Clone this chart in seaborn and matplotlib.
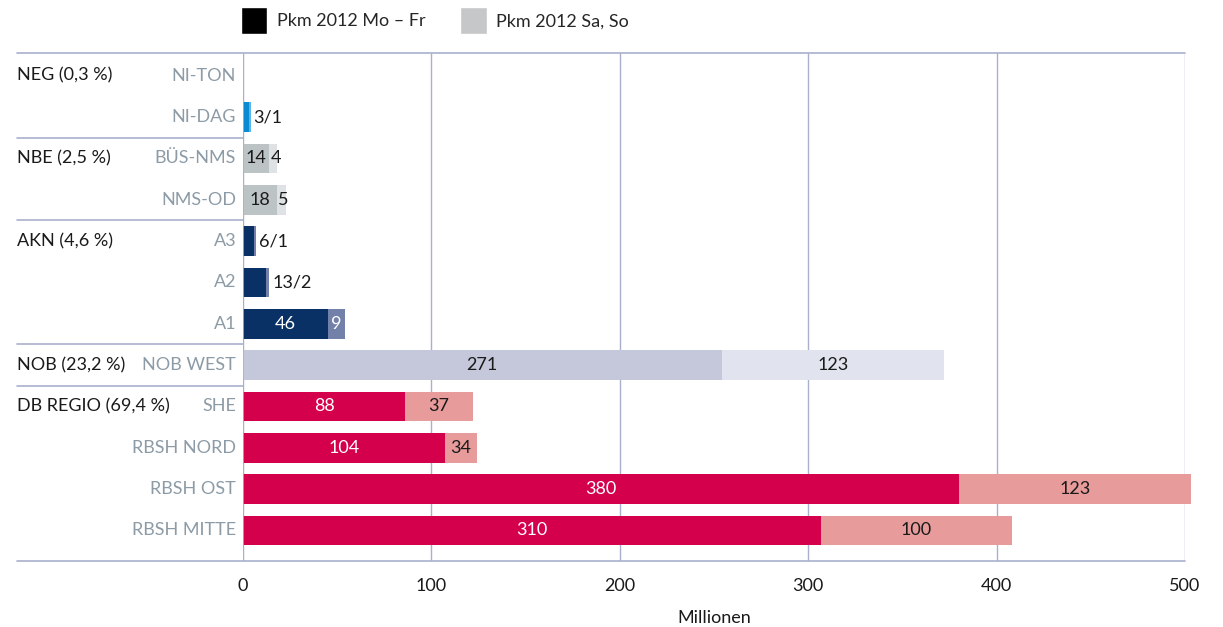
import matplotlib
matplotlib.use("Agg")
from matplotlib import pyplot
from matplotlib.patches import Patch
from matplotlib.transforms import blended_transform_factory
import seaborn
import pandas as pd

# Daten
strecken = ["NI-TON", "NI-DAG", "BÜS-NMS", "NMS-OD", "A3", "A2", "A1",
            "NOB WEST", "SHE", "RBSH NORD", "RBSH OST", "RBSH MITTE"]
gruppen = ["NEG (0,3 %)", "", "NBE (2,5 %)", "", "AKN (4,6 %)", "", "",
           "NOB (23,2 %)", "DB REGIO (69,4 %)", "", "", ""]
# Balkenlaengen wie im Bild (Mio. Pkm)
mo_fr = [0, 3, 14, 18, 6, 12, 45, 254, 86, 107, 380, 307]
sa_so = [0, 1, 4, 5, 1, 2, 9, 118, 36, 17, 123, 101]
# Beschriftungen
text_mo_fr = ["", "", "14", "18", "", "", "46", "271", "88", "104", "380", "310"]
text_sa_so = ["", "", "4", "5", "", "", "9", "123", "37", "34", "123", "100"]
text_aussen = ["", "3/1", "", "", "6/1", "13/2", "", "", "", "", "", ""]

farbe_dunkel = ["#0a8ad0", "#0a8ad0", "#bcc3c5", "#bcc3c5", "#0a3166", "#0a3166",
                "#0a3166", "#c4c8da", "#d4004b", "#d4004b", "#d4004b", "#d4004b"]
farbe_hell = ["#5ab4e6", "#5ab4e6", "#dfe2e4", "#dfe2e4", "#7280aa", "#7280aa",
              "#7280aa", "#e1e3ee", "#e89b9b", "#e89b9b", "#e89b9b", "#e89b9b"]
text_farbe_mo = ["k", "k", "#1a1a1a", "#1a1a1a", "w", "w", "w", "#1a1a1a",
                 "w", "w", "w", "w"]
text_farbe_sa = ["k", "k", "#1a1a1a", "#1a1a1a", "w", "w", "w", "#1a1a1a",
                 "#1a1a1a", "#1a1a1a", "#1a1a1a", "#1a1a1a"]
trenner = [1.5, 3.5, 6.5, 7.5]

df = pd.DataFrame({"strecke": strecken, "mo_fr": mo_fr, "sa_so": sa_so})
df["summe"] = df["mo_fr"] + df["sa_so"]

seaborn.set_style("white")
pyplot.rcParams["font.family"] = ["Lato", "DejaVu Sans"]
linien = "#a9b0cc"
gross = 13

fig = pyplot.figure(figsize=(12.23, 6.27), dpi=100)
ax = fig.add_axes([0.1987, 0.1053, 0.7702, 0.8102])

seaborn.barplot(data=df, y="strecke", x="summe", hue="strecke", palette=farbe_hell,
                legend=False, orient="h", width=0.72, ax=ax, saturation=1,
                linewidth=0)
seaborn.barplot(data=df, y="strecke", x="mo_fr", hue="strecke", palette=farbe_dunkel,
                legend=False, orient="h", width=0.72, ax=ax, saturation=1,
                linewidth=0)
for balken in ax.patches:
    balken.set_clip_on(False)

ax.set_xlim(0, 500)
ax.set_ylim(11.74, -0.55)
ax.set_xticks(range(0, 501, 100))
ax.tick_params(axis="x", length=0, labelsize=gross, pad=12, colors="#1a1a1a")
ax.set_yticks([])
ax.set_ylabel("")
ax.set_xlabel("Millionen", fontsize=gross, labelpad=12, color="#1a1a1a")
for s in ax.spines.values():
    s.set_visible(False)
ax.grid(axis="x", color=linien, linewidth=1)
ax.set_axisbelow(True)
ax.axvline(0, color=linien, linewidth=1.2, zorder=5)

links = blended_transform_factory(fig.transFigure, ax.transData)
for i in range(len(strecken)):
    if text_mo_fr[i]:
        ax.text(mo_fr[i] / 2, i, text_mo_fr[i], ha="center", va="center",
                fontsize=gross, color=text_farbe_mo[i])
    if text_sa_so[i]:
        if sa_so[i] < 8:
            ax.text(mo_fr[i] + 0.8, i, text_sa_so[i], ha="left", va="center",
                    fontsize=gross, color=text_farbe_sa[i])
        else:
            ax.text(mo_fr[i] + sa_so[i] / 2, i, text_sa_so[i], ha="center",
                    va="center", fontsize=gross, color=text_farbe_sa[i])
    if text_aussen[i]:
        ax.text(mo_fr[i] + sa_so[i] + 1.5, i, text_aussen[i], ha="left", va="center",
                fontsize=gross, color="#1a1a1a")
    ax.annotate(strecken[i], xy=(0, i), xycoords=("axes fraction", "data"),
                xytext=(-5, 0), textcoords="offset points", ha="right", va="center",
                fontsize=gross, color="#8c9ba6", annotation_clip=False)
    if gruppen[i]:
        ax.text(17 / 1223, i, gruppen[i], transform=links,
                ha="left", va="center", fontsize=gross, color="#1a1a1a")

# Trennlinien links
x0 = (17 - 243) / 942
for y in trenner:
    ax.plot([x0, 0], [y, y], transform=ax.get_yaxis_transform(), color=linien,
            linewidth=1.2, clip_on=False)
for y in ax.get_ylim():
    ax.plot([x0, 1], [y, y], transform=ax.get_yaxis_transform(), color=linien,
            linewidth=1.2, clip_on=False)

griffe = [Patch(facecolor="black", label="Pkm 2012 Mo – Fr"),
          Patch(facecolor="#c6c7c8", label="Pkm 2012 Sa, So")]
fig.legend(handles=griffe, loc="center left", bbox_to_anchor=(0.184, 0.967), ncol=2,
           frameon=False, fontsize=gross, handlelength=1.45, handleheight=1.9,
           columnspacing=1.9, handletextpad=0.55)

fig.savefig("out.png", dpi=100)
